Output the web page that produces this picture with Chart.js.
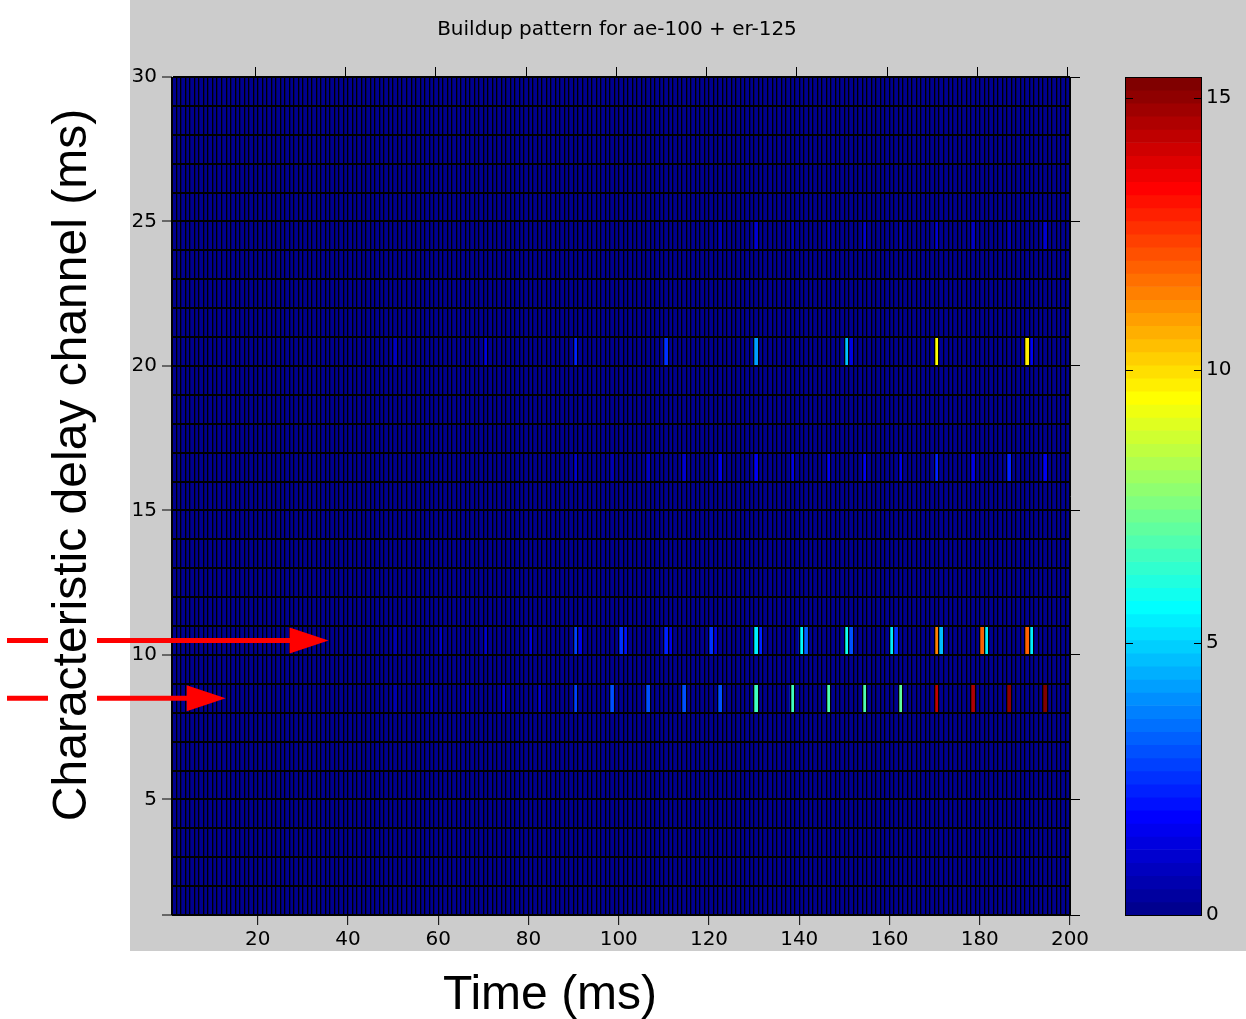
<!DOCTYPE html>
<html>
<head>
<meta charset="utf-8">
<title>Buildup pattern</title>
<script src="https://cdn.jsdelivr.net/npm/chart.js@4.4.1/dist/chart.umd.min.js"></script>
<style>
    html, body { margin: 0; padding: 0; background: #fff; }
    #wrap { position: relative; width: 1246px; height: 1019px; overflow: hidden; }
    canvas { position: absolute; top: 0; }
    #main { left: 0; width: 1246px; height: 1019px; }
    #cbar { left: 1100px; width: 146px; height: 1019px; }
</style>
</head>
<body>
<div id="wrap">
    <canvas id="main" width="1246" height="1019"></canvas>
    <canvas id="cbar" width="146" height="1019"></canvas>
</div>
<script>
// Axis categories: each cell is 1 ms wide and one delay channel tall
const timeBins = Array.from({ length: 199 }, (_, i) => i + 1);
const channels = Array.from({ length: 29 }, (_, i) => i + 1);
const xTickLabels = [20, 40, 60, 80, 100, 120, 140, 160, 180, 200];
const yTickLabels = [5, 10, 15, 20, 25, 30];
const yTickMarks = [1, 5, 10, 15, 20, 25, 30];
const cbarTicks = [0, 5, 10, 15];

// Non-zero cells, per delay channel (all other cells are 0)
const ch8Times  = [50, 58, 66, 74, 82, 90, 98, 106, 114, 122, 130, 138, 146, 154, 162, 170, 178, 186, 194];
const ch8Levels = [0.6, 0.6, 0.7, 1.0, 1.2, 2.8, 2.9, 2.9, 3.0, 3.1, 6.5, 6.7, 6.8, 6.9, 7.1, 14.3, 14.5, 15.0, 15.38];

const ch10Times  = [50, 60, 70, 80, 90, 91, 100, 101, 110, 111, 120, 121, 130, 131, 140, 141, 150, 151, 160, 161, 170, 171, 180, 181, 190, 191];
const ch10Levels = [0.6, 0.8, 1.0, 1.2, 2.8, 1.4, 2.6, 2.0, 2.3, 1.4, 2.5, 1.3, 5.4, 2.2, 5.7, 3.2, 5.8, 3.1, 5.4, 2.6, 11.4, 4.6, 11.8, 5.5, 11.8, 5.4];

const ch16Times  = [90, 98, 106, 114, 122, 130, 138, 146, 154, 162, 170, 178, 186, 194];
const ch16Levels = [1.0, 0.6, 0.8, 1.0, 1.3, 1.5, 1.3, 1.5, 1.5, 1.3, 2.4, 1.3, 2.2, 1.5];

const ch20Times  = [50, 70, 90, 110, 130, 150, 151, 170, 190, 191];
const ch20Levels = [0.8, 1.3, 2.2, 2.5, 4.3, 4.8, 1.3, 9.5, 9.7, 1.5];

const ch24Times  = [122, 130, 138, 146, 154, 162, 170, 178, 186, 194];
const ch24Levels = [0.5, 1.1, 0.6, 0.6, 1.1, 0.5, 1.0, 0.8, 0.5, 1.1];

// Slide annotations: arrows pointing at channels 10 and 8
const arrowChannels = [10.5, 8.5];
const arrowTipTimes = [35.7, 12.9];

const titleText = 'Buildup pattern for ae-100 + er-125';
const xTitle = 'Time (ms)';
const yTitle = 'Characteristic delay channel (ms)';

// matlab jet(64)
function jet(k) {
    const u = j => (j < 1 || j > 47) ? 0 : (j <= 16 ? j / 16 : (j <= 31 ? 1 : (48 - j) / 16));
    const n = k + 1;
    const r = Math.round(u(n - 24) * 255);
    const g = Math.round(u(n - 8) * 255);
    const b = Math.round(u(n + 8) * 255);
    return `rgb(${r},${g},${b})`;
}

const activeRows = [
    [8, ch8Times, ch8Levels],
    [10, ch10Times, ch10Levels],
    [16, ch16Times, ch16Levels],
    [20, ch20Times, ch20Levels],
    [24, ch24Times, ch24Levels]
];
const cmax = Math.max(...activeRows.flatMap(r => r[2]));

const lookup = {};
activeRows.forEach(([ch, times, levels]) => {
    times.forEach((t, i) => { lookup[ch + ':' + t] = levels[i]; });
});

const cells = [];
const cellColors = [];
channels.forEach(ch => {
    timeBins.forEach(t => {
        const v = lookup[ch + ':' + t] || 0;
        cells.push({ x: t + 0.5, y: [ch, ch + 1] });
        cellColors.push(jet(Math.min(63, Math.floor(v / cmax * 64))));
    });
});

Chart.defaults.font.family = "'DejaVu Sans', sans-serif";
Chart.defaults.font.size = 20;
Chart.defaults.color = '#000';

const clear = 'rgba(0,0,0,0)';
const markAt = list => c => (c.tick && list.includes(c.tick.value)) ? '#000' : clear;

const slideDecor = {
    id: 'slideDecor',
    beforeDraw(chart) {
        const c = chart.ctx;
        c.save();
        c.fillStyle = '#fff';
        c.fillRect(0, 0, chart.width, chart.height);
        c.fillStyle = '#cccccc';
        c.fillRect(130, 0, chart.width - 130, 951);
        c.restore();
    },
    afterDraw(chart) {
        const { ctx: c, chartArea: a, scales } = chart;
        c.save();
        c.fillStyle = '#000';
        c.textAlign = 'center';
        c.textBaseline = 'middle';
        c.font = "20px 'DejaVu Sans'";
        c.fillText(titleText, (a.left + a.right) / 2 - 4, 30);

        c.font = "48px 'Liberation Sans', Arial, sans-serif";
        c.textBaseline = 'alphabetic';
        c.fillText(xTitle, 550, 1009);
        c.save();
        c.translate(86, 465);
        c.rotate(-Math.PI / 2);
        c.fillText(yTitle, 0, 0);
        c.restore();

        // red arrows
        c.strokeStyle = '#ff0000';
        c.fillStyle = '#ff0000';
        c.lineWidth = 5;
        arrowChannels.forEach((ch, i) => {
            const y = scales.y.getPixelForValue(ch);
            const tip = scales.x.getPixelForValue(arrowTipTimes[i]);
            const headLen = 39, half = 13;
            c.beginPath();
            c.moveTo(7, y); c.lineTo(48, y);
            c.moveTo(97, y); c.lineTo(tip - headLen + 2, y);
            c.stroke();
            c.beginPath();
            c.moveTo(tip, y);
            c.lineTo(tip - headLen, y - half);
            c.lineTo(tip - headLen, y + half);
            c.closePath();
            c.fill();
        });
        c.restore();
    }
};

new Chart(document.getElementById('main'), {
    type: 'bar',
    data: {
        datasets: [{
            data: cells,
            backgroundColor: cellColors,
            borderWidth: 0,
            barPercentage: 1,
            categoryPercentage: 1
        }]
    },
    options: {
        responsive: false,
        animation: false,
        events: [],
        layout: { padding: { left: 130, right: 166, top: 67, bottom: 64 } },
        plugins: { legend: { display: false }, tooltip: { enabled: false } },
        scales: {
            x: {
                type: 'linear', position: 'bottom', min: 1, max: 200, offset: false,
                grid: {
                    offset: false, color: '#000', lineWidth: 1.3, z: 1,
                    tickLength: 10, tickWidth: 1, tickColor: markAt(xTickLabels)
                },
                border: { color: '#000', width: 1, z: 1 },
                ticks: {
                    stepSize: 1, autoSkip: false, maxRotation: 0, minRotation: 0, padding: 3,
                    callback: v => xTickLabels.includes(v) ? String(v) : ''
                },
                afterFit: s => { s.height = 40; }
            },
            x2: {
                type: 'linear', position: 'top', min: 1, max: 200, offset: false,
                grid: {
                    drawOnChartArea: false, tickLength: 10, tickWidth: 1, tickColor: markAt(xTickLabels)
                },
                border: { color: '#000', width: 1, z: 1 },
                ticks: { stepSize: 1, autoSkip: false, display: false },
                afterFit: s => { s.height = 10; }
            },
            y: {
                type: 'linear', position: 'left', min: 1, max: 30,
                grid: {
                    color: '#000', lineWidth: 2, z: 1,
                    tickLength: 10, tickWidth: 1, tickColor: markAt(yTickMarks)
                },
                border: { color: '#000', width: 1, z: 1 },
                ticks: {
                    stepSize: 1, autoSkip: false, padding: 5,
                    callback: v => yTickLabels.includes(v) ? String(v) : ''
                },
                afterFit: s => { s.width = 42; }
            },
            y2: {
                type: 'linear', position: 'right', min: 1, max: 30,
                grid: {
                    drawOnChartArea: false, tickLength: 10, tickWidth: 1, tickColor: markAt(yTickMarks)
                },
                border: { color: '#000', width: 1, z: 1 },
                ticks: { stepSize: 1, autoSkip: false, display: false },
                afterFit: s => { s.width = 10; }
            }
        }
    },
    plugins: [slideDecor]
});

// Colorbar: 64 jet bands from 0 to the data maximum
const bands = [];
const bandColors = [];
for (let k = 0; k < 64; k++) {
    bands.push({ x: 0.5, y: [k * cmax / 64, (k + 1) * cmax / 64] });
    bandColors.push(jet(k));
}

const cbarFrame = {
    id: 'cbarFrame',
    afterDatasetsDraw(chart) {
        const { ctx: c, chartArea: a, scales } = chart;
        c.save();
        c.strokeStyle = '#000';
        c.lineWidth = 1;
        c.strokeRect(Math.round(a.left) + 0.5, Math.round(a.top) + 0.5,
            Math.round(a.right - a.left) - 1, Math.round(a.bottom - a.top));
        c.beginPath();
        cbarTicks.forEach(v => {
            const y = Math.round(scales.y.getPixelForValue(v)) + 0.5;
            c.moveTo(a.left, y); c.lineTo(a.left + 8, y);
            c.moveTo(a.right - 8, y); c.lineTo(a.right, y);
        });
        c.stroke();
        c.restore();
    }
};

new Chart(document.getElementById('cbar'), {
    type: 'bar',
    data: {
        datasets: [{
            data: bands,
            backgroundColor: bandColors,
            borderWidth: 0,
            barPercentage: 1,
            categoryPercentage: 1
        }]
    },
    options: {
        responsive: false,
        animation: false,
        events: [],
        layout: { padding: { left: 25, right: 0, top: 77, bottom: 104 } },
        plugins: { legend: { display: false }, tooltip: { enabled: false } },
        scales: {
            x: { type: 'linear', display: false, min: 0, max: 1, offset: false, ticks: { stepSize: 1 } },
            y: {
                type: 'linear', position: 'right', min: 0, max: cmax,
                grid: { display: false, drawTicks: false, tickLength: 0 },
                border: { display: false },
                ticks: { stepSize: 5, includeBounds: false, padding: 4 },
                afterFit: s => { s.width = 44; }
            }
        }
    },
    plugins: [cbarFrame]
});
</script>
</body>
</html>
